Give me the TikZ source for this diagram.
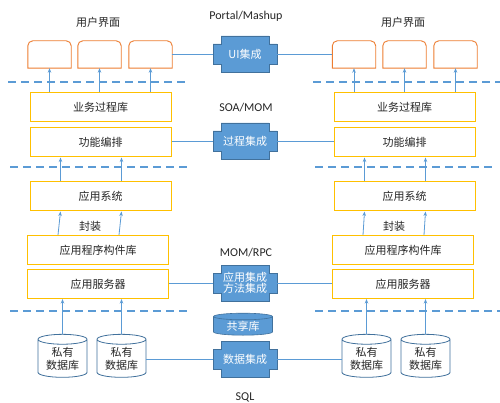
\documentclass[tikz,border=0pt]{standalone}
\usepackage{fontspec}
\setmainfont{Noto Sans CJK SC}
\newfontfamily\latfont{Carlito}
\usetikzlibrary{shapes.geometric, arrows.meta}

\definecolor{ublue}{HTML}{5B9BD5}
\definecolor{dblue}{HTML}{41719C}
\definecolor{uorange}{HTML}{ED7D31}
\definecolor{ugold}{HTML}{FFC000}
\definecolor{ink}{HTML}{262626}

\tikzset{
  lib/.style={draw=ugold, line width=1pt, fill=white, minimum width=141, minimum height=29, inner sep=0},
  uibox/.style={minimum width=43, minimum height=27, inner sep=0},
  uiedge/.style={draw=uorange, line width=0.9pt},
  link/.style={ublue, line width=0.8pt},
  uparrow/.style={ublue, line width=0.8pt, -{Stealth[length=4.5pt, width=3.5pt]}},
  sepline/.style={ublue, line width=1.5pt, dash pattern=on 8pt off 5pt},
  privdb/.style={cylinder, shape border rotate=90, draw=dblue, line width=0.8pt, fill=white, aspect=0.3,
    minimum width=49, minimum height=43, inner sep=0, align=center, text=ink},
  sharedb/.style={cylinder, shape border rotate=90, draw=dblue, line width=0.6pt, fill=ublue, aspect=0.2,
    minimum width=59, minimum height=22, inner sep=0, text=white},
  intg/.style={fill=ublue, draw=dblue, line width=0.6pt},
  intlbl/.style={minimum width=64, minimum height=36, inner sep=0, text=white, align=center},
  proto/.style={font=\latfont\fontsize{12}{14}\selectfont, text=ink},
}

% blue integration block: name, x, y, text
\newcommand{\intgbox}[4]{%
  \filldraw[intg] (#2-24,#3-18) -- (#2+24,#3-18) -- (#2+24,#3-10) -- (#2+32,#3-10)
    -- (#2+32,#3+10) -- (#2+24,#3+10) -- (#2+24,#3+18) -- (#2-24,#3+18)
    -- (#2-24,#3+10) -- (#2-32,#3+10) -- (#2-32,#3-10) -- (#2-24,#3-10) -- cycle;
  \node[intlbl] (#1) at (#2,#3) {#4};}

\begin{document}
\begin{tikzpicture}[x=1pt, y=-1pt, font=\fontsize{11}{13}\selectfont, text=ink]
  \useasboundingbox[fill=white] (0,0) rectangle (500,403);

  % headers
  \node (uihl) at (98,22) {用户界面};
  \node (uihr) at (403,22) {用户界面};
  \node[proto] (portal) at (246,16) {Portal/Mashup};
  \node[proto] (soa) at (246,108) {SOA/MOM};
  \node[proto] (rpc) at (246,253) {MOM/RPC};
  \node[proto] (sql) at (245,397) {SQL};

  % user interface boxes
  \foreach \x [count=\i] in {49.5,99.5,150.5} {
    \node[uibox] (ul\i) at (\x,54.5) {};
    \draw[uiedge] (ul\i.south east) -- (ul\i.south west) [rounded corners=5] -- (ul\i.north west)
      -- (ul\i.north east) [sharp corners] -- cycle;
  }
  \foreach \x [count=\i] in {354,404.5,455.5} {
    \node[uibox] (ur\i) at (\x,54.5) {};
    \draw[uiedge] (ur\i.south east) -- (ur\i.south west) [rounded corners=5] -- (ur\i.north west)
      -- (ur\i.north east) [sharp corners] -- cycle;
  }

  % left system
  \node[lib] (biz1) at (100.5,107) {业务过程库};
  \node[lib] (fn1) at (100.5,142.5) {功能编排};
  \node[lib] (sys1) at (100.5,196.5) {应用系统};
  \node[lib] (comp1) at (98,250) {应用程序构件库};
  \node[lib] (srv1) at (98,284) {应用服务器};
  \node (wrap1) at (90,226) {封装};
  \node[privdb] (dbl1) at (62.5,358.5) {私有\\数据库};
  \node[privdb] (dbl2) at (121.5,358.5) {私有\\数据库};

  % right system
  \node[lib] (biz2) at (404.5,107) {业务过程库};
  \node[lib] (fn2) at (404.5,142.5) {功能编排};
  \node[lib] (sys2) at (404.5,196.5) {应用系统};
  \node[lib] (comp2) at (403,250) {应用程序构件库};
  \node[lib] (srv2) at (403,284) {应用服务器};
  \node (wrap2) at (394,226) {封装};
  \node[privdb] (dbr1) at (366.5,358.5) {私有\\数据库};
  \node[privdb] (dbr2) at (425.5,358.5) {私有\\数据库};

  % integration blocks
  \intgbox{uiint}{245}{54}{UI集成}
  \intgbox{procint}{245}{141}{过程集成}
  \intgbox{appint}{245}{283}{应用集成\\[-2pt]方法集成}
  \intgbox{dataint}{245}{359}{数据集成}
  \node[sharedb] (share) at (243,326) {共享库};

  % layer separators
  \draw[sepline] (8,82) -- (187,82);
  \draw[sepline] (313,82) -- (500,82);
  \draw[sepline] (10,167) -- (190,167);
  \draw[sepline] (315,167) -- (493,167);
  \draw[sepline] (10,311) -- (188,311);
  \draw[sepline] (315,311) -- (500,311);

  % arrows
  \foreach \i in {1,2,3} {
    \draw[uparrow] (ul\i.south |- biz1.north) -- (ul\i.south);
    \draw[uparrow] (ur\i.south |- biz2.north) -- (ur\i.south);
  }
  \foreach \s in {1,2} {
    \draw[uparrow] ([xshift=31]sys\s.north west) -- ([xshift=31]fn\s.south west);
    \draw[uparrow] ([xshift=92]sys\s.north west) -- ([xshift=92]fn\s.south west);
    \draw[uparrow] ([xshift=31]comp\s.north west) -- ([xshift=31]sys\s.south west);
    \draw[uparrow] ([xshift=92]comp\s.north west) -- ([xshift=92]sys\s.south west);
  }
  \draw[uparrow] (dbl1.north) -- (dbl1.north |- srv1.south);
  \draw[uparrow] (dbl2.north) -- (dbl2.north |- srv1.south);
  \draw[uparrow] (dbr1.north) -- (dbr1.north |- srv2.south);
  \draw[uparrow] (dbr2.north) -- (dbr2.north |- srv2.south);

  % links to integration
  \draw[link] (ul3.east |- uiint.west) -- (uiint.west);
  \draw[link] (uiint.east) -- (ur1.west |- uiint.east);
  \draw[link] (fn1.east |- procint.west) -- (procint.west);
  \draw[link] (procint.east) -- (fn2.west |- procint.east);
  \draw[link] (srv1.east |- appint.west) -- (appint.west);
  \draw[link] (appint.east) -- (srv2.west |- appint.east);
  \draw[link] (dbl2.east |- dataint.west) -- (dataint.west);
  \draw[link] (dataint.east) -- (dbr1.west |- dataint.east);
\end{tikzpicture}
\end{document}
